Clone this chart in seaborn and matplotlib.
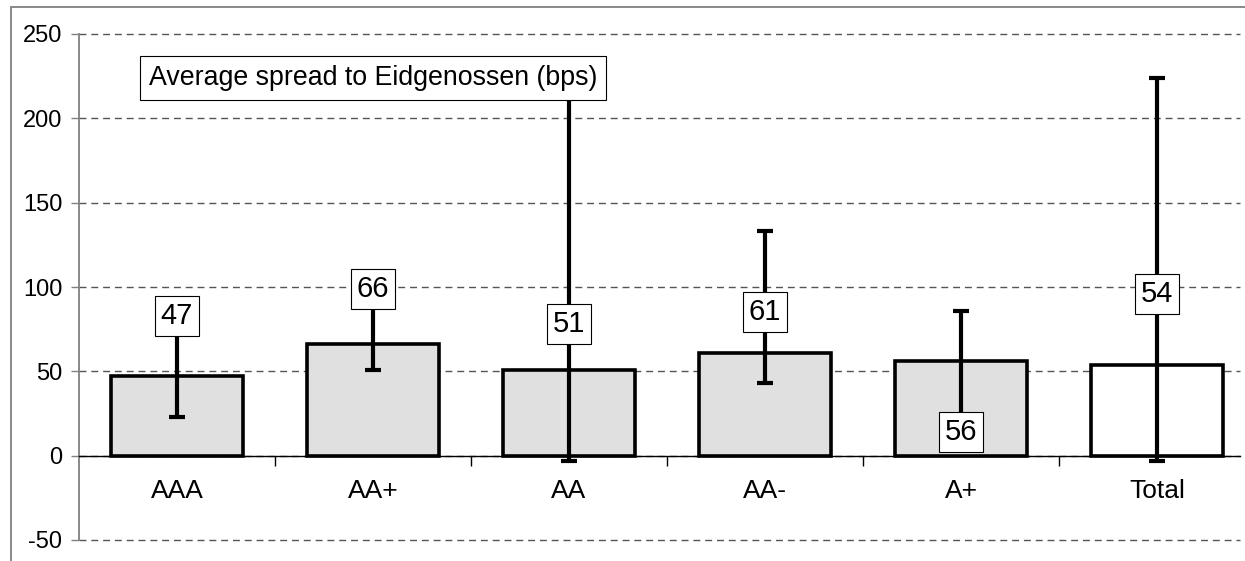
import matplotlib
matplotlib.use('Agg')
import matplotlib.pyplot as plt
from matplotlib.patches import Rectangle
import seaborn as sns
import numpy as np

# Data
ratings = ['AAA', 'AA+', 'AA', 'AA-', 'A+', 'Total']
avg_spread = [47, 66, 51, 61, 56, 54]
spread_low = [23, 51, -3, 43, 15, -3]
spread_high = [75, 88, 220, 133, 86, 224]
bar_colors = ['#e0e0e0', '#e0e0e0', '#e0e0e0', '#e0e0e0', '#e0e0e0', 'white']
label_y = [83, 99, 78, 85, 14, 96]

sns.set_theme(style='white')
plt.rcParams['font.family'] = ['Liberation Sans', 'DejaVu Sans']
plt.rcParams['axes.unicode_minus'] = False
plt.rcParams['text.color'] = 'black'

W, H = 1245, 561
fig = plt.figure(figsize=(W / 100, H / 100), dpi=100)
ax = fig.add_axes([79 / W, (H - 540) / H, (1240 - 79) / W, (540 - 34) / H])

sns.barplot(x=ratings, y=avg_spread, hue=ratings, palette=bar_colors, legend=False,
            width=0.67, edgecolor='black', linewidth=2.6, errorbar=None,
            saturation=1, ax=ax, zorder=2)

# min / max whiskers
x = np.arange(len(ratings))
yerr = [np.array(avg_spread) - np.array(spread_low), np.array(spread_high) - np.array(avg_spread)]
ax.errorbar(x, avg_spread, yerr=yerr, fmt='none', ecolor='black', elinewidth=3,
            capsize=6, capthick=3, zorder=3)

# value labels
for i, v in enumerate(avg_spread):
    ax.text(i, label_y[i], str(v), ha='center', va='center', fontsize=21, zorder=5,
            color='black',
            bbox=dict(boxstyle='square,pad=0.2', fc='white', ec='black', lw=0.8))

ax.text(1, 224, 'Average spread to Eidgenossen (bps)', ha='center', va='center',
        fontsize=19.3, zorder=5, color='black',
        bbox=dict(boxstyle='square,pad=0.33', fc='white', ec='black', lw=0.8))

ax.set_ylim(-50, 250)
ax.set_xlim(-0.5, 5.423)
ax.set_yticks([-50, 0, 50, 100, 150, 200, 250])
ax.yaxis.grid(True, color='#555555', linestyle=(0, (5, 3.5)), linewidth=1.0, zorder=0)
ax.set_axisbelow(True)
for gl in ax.get_ygridlines():
    gl.set_clip_on(False)

for side in ['top', 'right']:
    ax.spines[side].set_visible(False)
ax.spines['left'].set_color('#808080')
ax.spines['left'].set_linewidth(1.3)
ax.spines['bottom'].set_position(('data', 0))
ax.spines['bottom'].set_color('black')
ax.spines['bottom'].set_linewidth(1.0)
ax.spines['bottom'].set_zorder(2.5)

ax.tick_params(axis='y', direction='out', length=6, width=1, color='#808080',
               labelsize=17, pad=6, left=True, labelcolor='black')
ax.set_xticks(x)
ax.set_xticklabels(ratings)
ax.set_xticks(x[:-1] + 0.5, minor=True)
ax.tick_params(axis='x', which='major', length=0, labelsize=19, pad=17, labelcolor='black')
ax.tick_params(axis='x', which='minor', direction='out', length=7, width=1, color='black',
               bottom=True)
ax.set_xlabel('')
ax.set_ylabel('')

# outer frame (cropped on the right and bottom)
fig.add_artist(Rectangle((11 / W, -0.2), 1.2, (H - 7) / H + 0.2, transform=fig.transFigure,
                         fill=False, ec='#808080', lw=1.3))

fig.savefig('out.png', dpi=100)
